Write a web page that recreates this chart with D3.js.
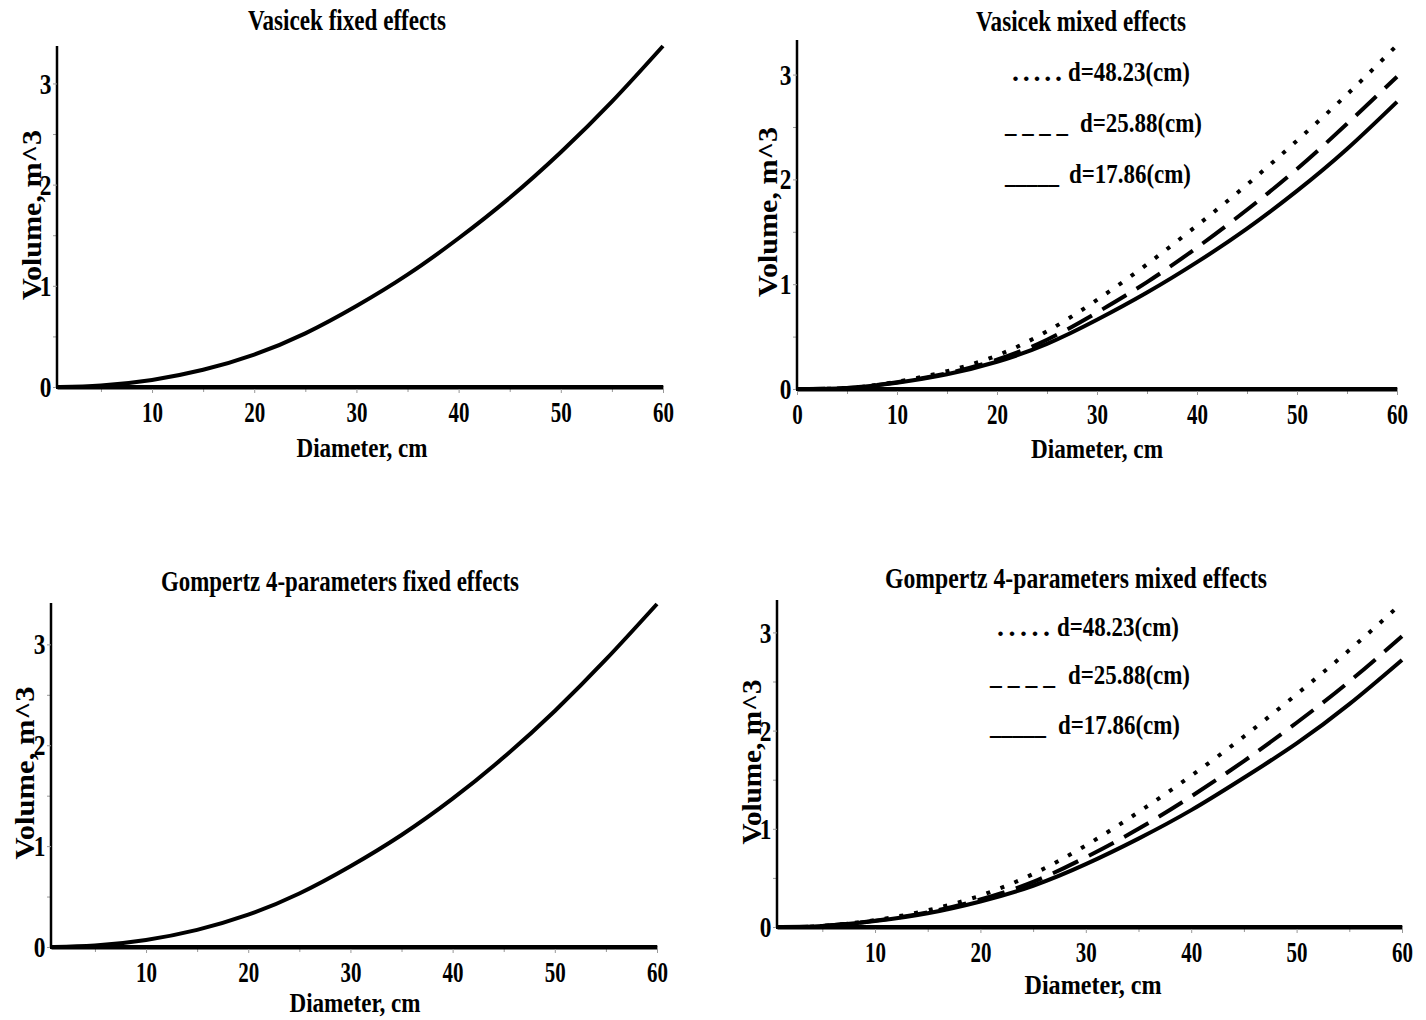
<!DOCTYPE html>
<html>
<head>
<meta charset="utf-8">
<script src="https://cdn.jsdelivr.net/npm/d3@7"></script>
<style>
  body { margin: 0; background: #fff; }
  text { font-family: 'Liberation Serif', 'Times New Roman', serif; font-weight: bold; fill: #000; }
</style>
</head>
<body>
<div id="chart"></div>
<script>
// values
const titles = [
  'Vasicek fixed effects',
  'Vasicek mixed effects',
  'Gompertz 4-parameters fixed effects',
  'Gompertz 4-parameters mixed effects',
];
const xLabel = 'Diameter, cm';
const yLabel = 'Volume, m^3';
const xTickValues = [10, 20, 30, 40, 50, 60];
const xMinorTicks = [5, 15, 25, 35, 45, 55];
const yTickValues = [0, 1, 2, 3];
const yMinorTicks = [0.5, 1.5, 2.5];

const diameters = [1, 5, 10, 15, 20, 25, 30, 35, 40, 45, 50, 55, 60];
const diametersFromZero = [0, 5, 10, 15, 20, 25, 30, 35, 40, 45, 50, 55, 60];

const vasicekFixed = [0.001, 0.015, 0.07, 0.17, 0.32, 0.53, 0.80, 1.11, 1.47, 1.87, 2.32, 2.82, 3.37];
const gompertzFixed = [0.001, 0.014, 0.07, 0.17, 0.32, 0.53, 0.80, 1.11, 1.47, 1.88, 2.34, 2.85, 3.40];

const vasicekMixed48 = [0, 0.01, 0.07, 0.17, 0.32, 0.55, 0.85, 1.19, 1.56, 1.95, 2.37, 2.81, 3.28];
const vasicekMixed25 = [0, 0.01, 0.065, 0.15, 0.28, 0.47, 0.73, 1.02, 1.35, 1.71, 2.10, 2.53, 2.98];
const vasicekMixed17 = [0, 0.01, 0.06, 0.14, 0.26, 0.43, 0.66, 0.92, 1.21, 1.53, 1.89, 2.29, 2.74];

const gompertzMixed48 = [0.001, 0.01, 0.07, 0.17, 0.32, 0.54, 0.83, 1.17, 1.54, 1.94, 2.37, 2.82, 3.30];
const gompertzMixed25 = [0.001, 0.01, 0.065, 0.15, 0.28, 0.46, 0.71, 1.00, 1.33, 1.69, 2.08, 2.50, 2.96];
const gompertzMixed17 = [0.001, 0.01, 0.06, 0.14, 0.26, 0.42, 0.64, 0.90, 1.19, 1.52, 1.87, 2.27, 2.72];

const legendLabels = ['d=48.23(cm)', 'd=25.88(cm)', 'd=17.86(cm)'];
const legendMarkers = ['.....', '_ _ _ _', '_____'];

const styles = {
  dotted: { dash: '4,11', width: 4 },
  dashed: { dash: '28,12', width: 4 },
  solid: { dash: null, width: 4 },
};

const width = 1426;
const height = 1020;

const svg = d3.select('#chart').append('svg')
  .attr('width', width)
  .attr('height', height);

svg.append('rect').attr('width', width).attr('height', height).attr('fill', '#fff');

const panels = [
  {
    title: titles[0], titleX: 347, titleY: 30, titleLen: 198,
    left: 57, right: 663, top: 46, bottom: 387, xMin: 0.7, yMax: 3.37,
    xTicks: xTickValues, xLab: [362, 457, 131], yLab: [41, 215, 170],
    series: [{ d: diameters, v: vasicekFixed, style: 'solid' }],
  },
  {
    title: titles[1], titleX: 1081, titleY: 31, titleLen: 210,
    left: 797, right: 1397, top: 40, bottom: 389, xMin: 0, yMax: 3.33,
    xTicks: [0].concat(xTickValues), xLab: [1097, 458, 132], yLab: [777, 212, 170],
    series: [
      { d: diametersFromZero, v: vasicekMixed17, style: 'solid' },
      { d: diametersFromZero, v: vasicekMixed25, style: 'dashed' },
      { d: diametersFromZero, v: vasicekMixed48, style: 'dotted' },
    ],
    legend: [
      { mx: 1012, mLen: 50, tx: 1068, y: 81 },
      { mx: 1005, mLen: 63, tx: 1080, y: 132 },
      { mx: 1005, mLen: 54, tx: 1069, y: 183 },
    ],
  },
  {
    title: titles[2], titleX: 340, titleY: 591, titleLen: 358,
    left: 51, right: 657, top: 603, bottom: 947, xMin: 0.7, yMax: 3.41,
    xTicks: xTickValues, xLab: [355, 1012, 131], yLab: [34, 773, 173],
    series: [{ d: diameters, v: gompertzFixed, style: 'solid' }],
  },
  {
    title: titles[3], titleX: 1076, titleY: 588, titleLen: 382,
    left: 777, right: 1402, top: 600, bottom: 927, xMin: 0.7, yMax: 3.33,
    xTicks: xTickValues, xLab: [1093, 994, 137], yLab: [761, 762, 165],
    series: [
      { d: diameters, v: gompertzMixed17, style: 'solid' },
      { d: diameters, v: gompertzMixed25, style: 'dashed' },
      { d: diameters, v: gompertzMixed48, style: 'dotted' },
    ],
    legend: [
      { mx: 997, mLen: 53, tx: 1057, y: 636 },
      { mx: 990, mLen: 65, tx: 1068, y: 684 },
      { mx: 990, mLen: 56, tx: 1058, y: 734 },
    ],
  },
];

const addText = (g, x, y, s, size, len, anchor, adjust) => g.append('text')
  .attr('x', x)
  .attr('y', y)
  .attr('font-size', size)
  .attr('text-anchor', anchor || 'middle')
  .attr('textLength', len)
  .attr('lengthAdjust', adjust || 'spacingAndGlyphs')
  .text(s);

panels.forEach((p) => {
  const g = svg.append('g');
  const x = d3.scaleLinear().domain([p.xMin, 60]).range([p.left, p.right]);
  const y = d3.scaleLinear().domain([0, p.yMax]).range([p.bottom, p.top]);

  // minor ticks first, under the axis lines
  g.append('g')
    .attr('transform', `translate(0,${p.bottom})`)
    .call(d3.axisBottom(x).tickValues(xMinorTicks).tickFormat('').tickSize(5).tickSizeOuter(0))
    .call(a => a.select('.domain').remove())
    .call(a => a.selectAll('line').attr('stroke', '#999'));

  g.append('g')
    .attr('transform', `translate(${p.left},0)`)
    .call(d3.axisLeft(y).tickValues(yMinorTicks).tickFormat('').tickSize(4).tickSizeOuter(0))
    .call(a => a.select('.domain').remove())
    .call(a => a.selectAll('line').attr('stroke', '#999'));

  const xAxis = g.append('g')
    .attr('transform', `translate(0,${p.bottom})`)
    .call(d3.axisBottom(x).tickValues(p.xTicks).tickFormat(d3.format('d'))
      .tickSize(6).tickPadding(8).tickSizeOuter(0));
  xAxis.select('.domain').attr('stroke-width', 4).attr('stroke', '#000');
  xAxis.selectAll('line').attr('stroke', '#999');
  xAxis.selectAll('text')
    .attr('font-size', 30)
    .attr('font-family', null)
    .attr('transform', 'scale(0.7,1)');

  const yAxis = g.append('g')
    .attr('transform', `translate(${p.left},0)`)
    .call(d3.axisLeft(y).tickValues(yTickValues).tickFormat(d3.format('d'))
      .tickSize(4).tickPadding(3).tickSizeOuter(0));
  yAxis.select('.domain')
    .attr('stroke-width', 2.5)
    .attr('stroke', '#000')
    .attr('d', `M0,${p.bottom}V${p.top}`);
  yAxis.selectAll('line').attr('stroke', '#999');
  yAxis.selectAll('text')
    .attr('font-size', 30)
    .attr('font-family', null)
    .attr('transform', 'scale(0.78,1)');

  // x axis line again on top so it stays thick over the y axis end
  g.append('line')
    .attr('x1', p.left - 1).attr('x2', p.right)
    .attr('y1', p.bottom).attr('y2', p.bottom)
    .attr('stroke', '#000').attr('stroke-width', 4);

  const line = d3.line()
    .x(d => x(d[0]))
    .y(d => y(d[1]))
    .curve(d3.curveNatural);

  p.series.forEach((s) => {
    const st = styles[s.style];
    g.append('path')
      .datum(s.d.map((d, i) => [d, s.v[i]]))
      .attr('d', line)
      .attr('fill', 'none')
      .attr('stroke', '#000')
      .attr('stroke-width', st.width)
      .attr('stroke-dasharray', st.dash);
  });

  addText(g, p.titleX, p.titleY, p.title, 29, p.titleLen);
  addText(g, p.xLab[0], p.xLab[1], xLabel, 28, p.xLab[2]);
  addText(g, 0, 0, yLabel, 27, p.yLab[2])
    .attr('transform', `translate(${p.yLab[0]},${p.yLab[1]}) rotate(-90)`);

  if (p.legend) {
    p.legend.forEach((l, i) => {
      // the dotted marker keeps its glyphs, the underscores shrink with their gaps
      addText(g, l.mx, l.y, legendMarkers[i], 28, l.mLen, 'start', i === 0 ? 'spacing' : 'spacingAndGlyphs');
      addText(g, l.tx, l.y, legendLabels[i], 28, 122, 'start');
    });
  }
});
</script>
</body>
</html>
